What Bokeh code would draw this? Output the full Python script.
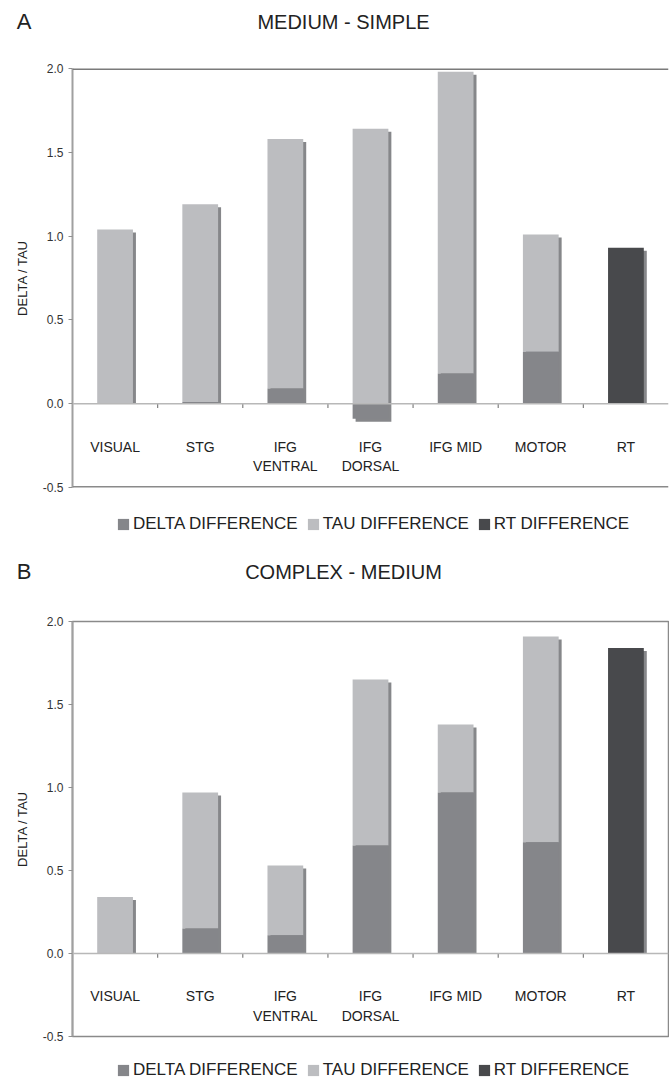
from bokeh.plotting import figure
from bokeh.layouts import column
from bokeh.models import Range1d, Legend, LegendItem, Span, FixedTicker, NumeralTickFormatter
from bokeh.core.properties import value
from bokeh.embed import file_html
from bokeh.resources import INLINE

categories = ["VISUAL", "STG", "IFG\nVENTRAL", "IFG\nDORSAL", "IFG MID", "MOTOR", "RT"]
y_ticks = [-0.5, 0.0, 0.5, 1.0, 1.5, 2.0]
legend_labels = ["DELTA DIFFERENCE", "TAU DIFFERENCE", "RT DIFFERENCE"]

# Panel A: MEDIUM - SIMPLE
a_delta = [0.00, 0.01, 0.09, -0.09, 0.18, 0.31]
a_tau = [1.04, 1.18, 1.49, 1.64, 1.80, 0.70]
a_rt = [0.93]

# Panel B: COMPLEX - MEDIUM
b_delta = [0.00, 0.15, 0.11, 0.65, 0.97, 0.67]
b_tau = [0.34, 0.82, 0.42, 1.00, 0.41, 1.24]
b_rt = [1.84]

FONT = "Liberation Sans"
C_DELTA = "#85868a"
C_TAU = "#bcbdc0"
C_RT = "#48494c"
C_SHADOW = "#86878a"
W = 669
LEFT = 72
RIGHT = 1


def bare(height, x_range, y_range):
    f = figure(width=W, height=height, x_range=x_range, y_range=y_range,
               output_backend="svg", toolbar_location=None, x_axis_location=None,
               min_border_left=LEFT, min_border_right=RIGHT, min_border_top=0, min_border_bottom=0)
    f.xgrid.visible = False
    f.ygrid.visible = False
    f.outline_line_color = None
    return f


def header(letter, title, height, ty):
    f = bare(height, Range1d(LEFT, W - RIGHT), Range1d(height, 0))
    ax = f.yaxis[0]
    ax.ticker = FixedTicker(ticks=[ty])
    ax.major_label_overrides = {ty: letter}
    ax.axis_line_color = None
    ax.major_tick_line_color = None
    ax.minor_tick_line_color = None
    ax.major_tick_out = 0
    ax.major_label_standoff = LEFT - 31
    ax.major_label_text_font = FONT
    ax.major_label_text_font_size = "22px"
    ax.major_label_text_color = "#222222"
    f.text(x=[343], y=[ty], text=[title], text_align="center", text_baseline="middle",
           text_font=value(FONT), text_font_size="20px", text_color="#222222")
    return f


def footer(height, delta, tau, rt, ly):
    # legend strip; the series sit outside the visible ranges and only serve as legend swatches
    f = bare(height, Range1d(-200, -199), Range1d(100, 101))
    f.yaxis.visible = False
    xs = [i + 0.5 for i in range(len(delta))]
    r_delta = f.vbar(x=xs, top=delta, width=0.42, fill_color=C_DELTA, line_color=None)
    r_tau = f.vbar(x=xs, top=tau, width=0.42, fill_color=C_TAU, line_color=None)
    r_rt = f.vbar(x=[len(delta) + 0.5], top=rt, width=0.42, fill_color=C_RT, line_color=None)
    legend = Legend(items=[LegendItem(label=l, renderers=[r])
                           for l, r in zip(legend_labels, (r_delta, r_tau, r_rt))],
                    orientation="horizontal", location=(116 - LEFT, ly),
                    border_line_color=None, background_fill_alpha=0,
                    label_text_font=FONT, label_text_font_size="17px", label_text_color="#222222",
                    glyph_width=14, glyph_height=14, label_standoff=3, spacing=8, padding=2, margin=0)
    f.add_layout(legend)
    return f


def main(delta, tau, rt, height, top, bottom, outline):
    p = figure(width=W, height=height, x_range=Range1d(0, 7), y_range=Range1d(-0.5, 2.0),
               output_backend="svg", toolbar_location=None, x_axis_location=None,
               min_border_left=LEFT, min_border_right=RIGHT, min_border_top=top,
               min_border_bottom=bottom)
    p.xgrid.visible = False
    p.ygrid.visible = False
    p.background_fill_color = "white"
    if outline:
        p.outline_line_color = "#8a8a8a"
        p.outline_line_width = 1.5
    else:
        p.outline_line_color = None
        p.add_layout(Span(location=2.0, dimension="width", line_color="#7a7a7a", line_width=3))
        p.add_layout(Span(location=-0.5, dimension="width", line_color="#8a8a8a", line_width=3))

    ax = p.yaxis[0]
    ax.ticker = FixedTicker(ticks=y_ticks)
    ax.formatter = NumeralTickFormatter(format="0.0")
    ax.axis_line_color = "#a0a0a0"
    ax.axis_line_width = 2
    ax.major_tick_line_color = "#909090"
    ax.major_tick_out = 4
    ax.major_tick_in = 0
    ax.minor_tick_line_color = None
    ax.major_label_text_font = FONT
    ax.major_label_text_font_size = "12px"
    ax.major_label_text_color = "#333333"
    ax.major_label_standoff = 5
    ax.axis_label = "DELTA / TAU"
    ax.axis_label_text_font = FONT
    ax.axis_label_text_font_size = "13px"
    ax.axis_label_text_font_style = "normal"
    ax.axis_label_text_color = "#222222"
    ax.axis_label_standoff = 10

    n = len(delta)
    xs = [i + 0.5 for i in range(n)]
    base = [max(d, 0.0) for d in delta]
    tops = [b + t for b, t in zip(base, tau)]
    w = 0.42
    dx = 0.035
    dy = 0.018

    # shadows
    sh_bottom = [min(d, 0.0) - (dy if d < 0 else 0.0) for d in delta]
    p.vbar(x=[x + dx for x in xs], width=w, bottom=sh_bottom, top=[t - dy for t in tops],
           fill_color=C_SHADOW, line_color=None)
    xr = n + 0.5
    p.vbar(x=[xr + dx], width=w, bottom=[0], top=[rt[0] - dy],
           fill_color=C_SHADOW, line_color=None)

    p.vbar(x=xs, width=w, bottom=base, top=tops, fill_color=C_TAU, line_color=None)
    p.vbar(x=xs, width=w, bottom=[0] * n, top=delta, fill_color=C_DELTA, line_color=None)
    p.vbar(x=[xr], width=w, bottom=[0], top=rt, fill_color=C_RT, line_color=None)

    # zero line with category boundary ticks
    p.add_layout(Span(location=0, dimension="width", line_color="#b8b8b8", line_width=1.5))
    bx = [float(i) for i in range(1, len(categories))]
    p.segment(x0=bx, x1=bx, y0=[0] * len(bx), y1=[-0.025] * len(bx), line_color="#808080", line_width=1.2)

    # category labels
    p.text(x=[i + 0.5 for i in range(len(categories))], y=[-0.21] * len(categories), text=categories,
           text_align="center", text_baseline="top", text_font=value(FONT),
           text_font_size="14px", text_color="#222222", text_line_height=1.2)
    return p


headA = header("A", "MEDIUM - SIMPLE", 50, 21)
mainA = main(a_delta, a_tau, a_rt, height=447, top=18, bottom=10, outline=False)
footA = footer(59, a_delta, a_tau, a_rt, 22)
headB = header("B", "COMPLEX - MEDIUM", 50, 15)
mainB = main(b_delta, b_tau, b_rt, height=440, top=15, bottom=10, outline=True)
footB = footer(34, b_delta, b_tau, b_rt, 0)

layout = column(headA, mainA, footA, headB, mainB, footB, spacing=0)
open("out.html", "w").write(file_html(layout, INLINE))
